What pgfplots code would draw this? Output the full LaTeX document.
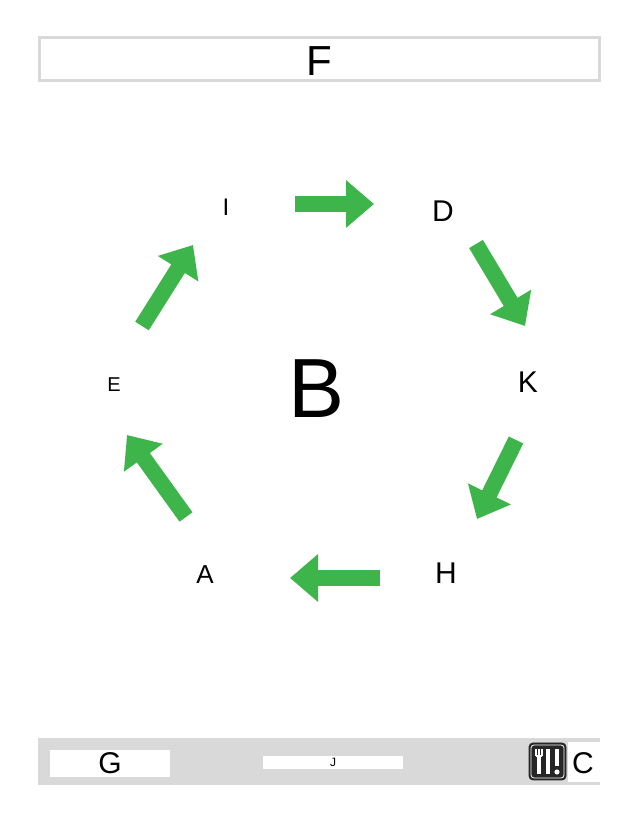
\documentclass[border=0pt]{standalone}
\usepackage{pgfplots}
\pgfplotsset{compat=1.18}
\usepackage{fontspec}
\setmainfont{Liberation Sans}
\usetikzlibrary{arrows.meta}
\definecolor{grn}{HTML}{3DB54A}
\definecolor{lg}{HTML}{D9D9D9}
\tikzset{ar/.style={draw=grn,solid,line width=8pt,-{Triangle[width=23pt,length=14pt]}}}
\begin{document}
\begin{tikzpicture}
\begin{axis}[width=319pt,height=413pt,scale only axis,xmin=0,xmax=638,ymin=0,ymax=826,hide axis,clip=false]
\fill[white] (axis cs:0,0) rectangle (axis cs:638,826);
% top title box
\draw[lg,line width=1.5pt,fill=white] (axis cs:39,745) rectangle (axis cs:599,788);
\node at (axis cs:319,765) {\fontsize{21pt}{21pt}\selectfont F};
% arrows
\addplot[ar,no markers] coordinates {(295,622) (374,622)};
\addplot[ar,no markers] coordinates {(476,582) (525,500)};
\addplot[ar,no markers] coordinates {(516,386) (477,307)};
\addplot[ar,no markers] coordinates {(380,248) (290,248)};
\addplot[ar,no markers] coordinates {(186,309) (127,391)};
\addplot[ar,no markers] coordinates {(142,500) (193,581)};
% labels
\node at (axis cs:226,619) {\fontsize{12pt}{12pt}\selectfont I};
\node at (axis cs:443,615) {\fontsize{15pt}{15pt}\selectfont D};
\node at (axis cs:528,444) {\fontsize{15pt}{15pt}\selectfont K};
\node at (axis cs:446,253) {\fontsize{15pt}{15pt}\selectfont H};
\node at (axis cs:205,251) {\fontsize{13pt}{13pt}\selectfont A};
\node at (axis cs:114,441) {\fontsize{10pt}{10pt}\selectfont E};
\node at (axis cs:317,437) {\fontsize{42pt}{42pt}\selectfont B};
% bottom bar
\fill[lg] (axis cs:38,41) rectangle (axis cs:600,88);
\fill[white] (axis cs:50,49) rectangle (axis cs:170,76);
\node at (axis cs:110,63) {\fontsize{15pt}{15pt}\selectfont G};
\fill[white] (axis cs:263,57) rectangle (axis cs:403,70);
\node at (axis cs:333,64) {\fontsize{6pt}{6pt}\selectfont J};
\fill[white] (axis cs:568,44) rectangle (axis cs:600,84);
\node at (axis cs:583,63) {\fontsize{15pt}{15pt}\selectfont C};
\draw[black!85,fill=black!85,rounded corners=2pt] (axis cs:529,46) rectangle (axis cs:566,83);
\draw[white,line width=0.4pt,rounded corners=1.5pt] (axis cs:531,48) rectangle (axis cs:564,81);
\draw[white,line width=1.8pt] (axis cs:539,52) -- (axis cs:539,70);
\draw[white,line width=0.6pt] (axis cs:536,70) -- (axis cs:536,77) (axis cs:539,70) -- (axis cs:539,77) (axis cs:542,70) -- (axis cs:542,77);
\draw[white,line width=0.8pt] (axis cs:536,70) -- (axis cs:542,70);
\draw[white,line width=2.2pt] (axis cs:548,52) -- (axis cs:548,77);
\draw[white,line width=2.2pt] (axis cs:557,60) -- (axis cs:557,77);
\fill[white] (axis cs:557,54) circle (1.3pt);
\end{axis}
\end{tikzpicture}
\end{document}
